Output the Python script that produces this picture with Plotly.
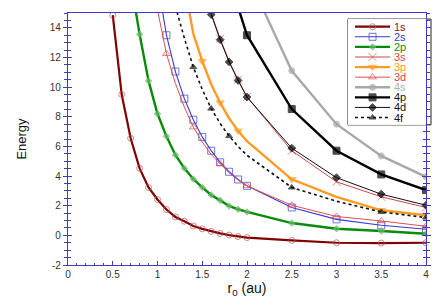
import plotly.graph_objects as go

# ---------------- data ----------------
NAMES = ["1s", "2s", "2p", "3s", "3p", "3d", "4s", "4p", "4d", "4f"]

R_1S = [0.5, 0.6, 0.7, 0.8, 0.9, 1.0, 1.1, 1.2, 1.3, 1.4, 1.5, 1.6, 1.7, 1.8, 1.9, 2.0, 2.5, 3.0, 3.5, 4.0]
E_1S = [14.85, 9.5, 6.55, 4.52, 3.23, 2.42, 1.74, 1.24, 0.95, 0.63, 0.44, 0.27, 0.13, 0.02, -0.08, -0.15, -0.34, -0.5, -0.52, -0.5]

R_2S = [1.0, 1.1, 1.2, 1.3, 1.4, 1.5, 1.6, 1.7, 1.8, 1.9, 2.0, 2.5, 3.0, 3.5, 4.0]
E_2S = [17.2, 13.5, 11.05, 9.22, 7.8, 6.64, 5.71, 4.93, 4.29, 3.77, 3.34, 1.88, 1.08, 0.68, 0.41]

R_2P = [0.7, 0.8, 0.9, 1.0, 1.1, 1.2, 1.3, 1.4, 1.5, 1.6, 1.7, 1.8, 1.9, 2.0, 2.5, 3.0, 3.5, 4.0]
E_2P = [17.2, 13.56, 10.42, 8.2, 6.68, 5.42, 4.52, 3.8, 3.23, 2.72, 2.36, 1.98, 1.76, 1.58, 0.83, 0.45, 0.29, 0.11]

R_3S = [1.5, 1.6, 1.7, 1.8, 1.9, 2.0, 2.5, 3.0, 3.5, 4.0]
E_3S = [17.2, 15.0, 13.27, 11.75, 10.5, 9.33, 5.71, 3.61, 2.6, 1.88]

R_3P = [1.3, 1.4, 1.5, 1.6, 1.7, 1.8, 1.9, 2.0, 2.5, 3.0, 3.5, 4.0]
E_3P = [16.9, 13.6, 11.75, 10.2, 8.95, 7.9, 7.05, 6.35, 3.78, 2.6, 1.69, 1.36]

R_3D = [1.0, 1.1, 1.2, 1.3, 1.4, 1.5, 1.6, 1.7, 1.8, 1.9, 2.0, 2.5, 3.0, 3.5, 4.0]
E_3D = [15.2, 12.25, 10.25, 8.65, 7.3, 6.3, 5.45, 4.82, 4.22, 3.74, 3.34, 2.03, 1.27, 0.97, 0.61]

R_4S = [2.0, 2.5, 3.0, 3.5, 4.0]
E_4S = [17.6, 11.1, 7.5, 5.36, 3.95]

R_4P = [1.9, 2.0, 2.5, 3.0, 3.5, 4.0]
E_4P = [15.4, 13.5, 8.52, 5.71, 4.11, 3.05]

R_4D = [1.6, 1.7, 1.8, 1.9, 2.0, 2.5, 3.0, 3.5, 4.0]
E_4D = [14.9, 13.2, 11.7, 10.45, 9.33, 5.88, 3.89, 2.78, 2.03]

R_4F = [1.2, 1.3, 1.4, 1.5, 1.6, 1.7, 1.8, 1.9, 2.0, 2.5, 3.0, 3.5, 4.0]
E_4F = [15.45, 13.3, 11.35, 9.85, 8.55, 7.55, 6.7, 6.0, 5.4, 3.23, 2.3, 1.58, 1.2]

X_TICKS = [0, 0.5, 1, 1.5, 2, 2.5, 3, 3.5, 4]
Y_TICKS = [-2, 0, 2, 4, 6, 8, 10, 12, 14]

SERIES = {
    "1s": (R_1S, E_1S), "2s": (R_2S, E_2S), "2p": (R_2P, E_2P),
    "3s": (R_3S, E_3S), "3p": (R_3P, E_3P), "3d": (R_3D, E_3D),
    "4s": (R_4S, E_4S), "4p": (R_4P, E_4P), "4d": (R_4D, E_4D),
    "4f": (R_4F, E_4F),
}

# ---------------- styles ----------------
AXIS_BLUE = "#3b3bc4"
FONT = "Liberation Sans, Arial, sans-serif"
STYLE = {
    "1s": dict(color="#800000", width=2.2, dash="solid", sym="circle-open", msz=6, mcol="#b85a5a", text="#8b2020", marks=None),
    "2s": dict(color="#3a3ad0", width=1.1, dash="solid", sym="square-open", msz=7, mcol="#3a3ad0", text="#3a3ad0", marks=None),
    "2p": dict(color="#0a8a0a", width=2.4, dash="solid", sym="diamond", msz=5, mcol="#66bb66", text="#0a8a0a", marks=None),
    "3s": dict(color="#c84848", width=1.0, dash="solid", sym="x-thin-open", msz=8, mcol="#d05a5a", text="#d04848", marks=[1.7, 1.9, 2.0, 2.5, 3.0, 3.5, 4.0]),
    "3p": dict(color="#ff9a22", width=2.4, dash="solid", sym="triangle-down", msz=7, mcol="#ff9a22", text="#ff9a22", marks=[1.5, 1.7, 1.9, 2.5, 3.5, 4.0]),
    "3d": dict(color="#e05050", width=1.0, dash="solid", sym="triangle-up-open", msz=7, mcol="#e05050", text="#e04848", marks=[1.1, 1.4, 1.7, 2.0, 2.5, 3.0, 3.5, 4.0]),
    "4s": dict(color="#a8a8a8", width=2.4, dash="solid", sym="circle", msz=6, mcol="#a8a8a8", text="#b0b0b0", marks=None),
    "4p": dict(color="#000000", width=2.4, dash="solid", sym="square", msz=7, mcol="#000000", text="#111111", marks=None),
    "4d": dict(color="#111111", width=1.0, dash="solid", sym="diamond", msz=6, mcol="#000000", text="#111111", marks=None),
    "4f": dict(color="#111111", width=1.6, dash="dot", sym="triangle-up", msz=6, mcol="#111111", text="#111111", marks=[1.4, 1.6, 1.8, 2.5, 3.5, 4.0]),
}


def marker_sizes(xs, st):
    if st["marks"] is None:
        return [st["msz"]] * len(xs)
    return [st["msz"] if any(abs(x - m) < 1e-9 for m in st["marks"]) else 0 for x in xs]


fig = go.Figure()

for name in NAMES:
    xs, ys = SERIES[name]
    st = STYLE[name]
    fig.add_trace(go.Scatter(
        x=xs, y=ys, mode="lines+markers", showlegend=False, name=name,
        line=dict(color=st["color"], width=st["width"], dash=st["dash"]),
        marker=dict(symbol=st["sym"], size=marker_sizes(xs, st), color=st["mcol"],
                    line=dict(color=st["mcol"], width=1)),
    ))

# crossing ticks helper axis (inside ticks)
fig.add_trace(go.Scatter(x=[None], y=[None], xaxis="x", yaxis="y3", showlegend=False, hoverinfo="skip"))

# ---------------- custom compact legend ----------------
for i, name in enumerate(NAMES):
    st = STYLE[name]
    fig.add_trace(go.Scatter(
        x=[0.09, 0.315, 0.54], y=[i, i, i], xaxis="x2", yaxis="y2", mode="lines+markers",
        showlegend=False, hoverinfo="skip",
        line=dict(color=st["color"], width=st["width"], dash=st["dash"]),
        marker=dict(symbol=st["sym"], size=[0, st["msz"], 0], color=st["mcol"],
                    line=dict(color=st["mcol"], width=1)),
        cliponaxis=False,
    ))
    fig.add_annotation(x=0.565, y=i, xref="x2", yref="y2", text=name, showarrow=False,
                       xanchor="left", yanchor="middle",
                       font=dict(family=FONT, size=11, color=st["text"]))

fig.add_shape(type="rect", xref="paper", yref="paper", x0=0.782, x1=1.014, y0=0.556, y1=0.976,
              line=dict(color="#222222", width=1), fillcolor="white", layer="below")

fig.update_layout(
    width=442, height=305,
    margin=dict(l=68, r=16, t=13, b=40, autoexpand=False),
    paper_bgcolor="white", plot_bgcolor="white",
    font=dict(family=FONT, size=10, color="#333333"),
    xaxis=dict(
        range=[0, 4], tickvals=X_TICKS, ticktext=[f"{v:g}" for v in X_TICKS],
        showgrid=False, zeroline=False, showline=True, linecolor=AXIS_BLUE, linewidth=1.2,
        mirror=True, ticks="inside", ticklen=4, tickcolor=AXIS_BLUE, tickwidth=1,
        minor=dict(dtick=0.1, ticks="inside", ticklen=2, tickcolor=AXIS_BLUE),
        tickfont=dict(size=10, color="#333333"),
        title=dict(text="r<sub>0</sub> (au)", font=dict(size=14, color="#111111"), standoff=2),
        automargin=False,
    ),
    yaxis=dict(
        range=[-2, 15], tickvals=Y_TICKS, ticktext=[f"{v:g}" for v in Y_TICKS],
        showgrid=False, zeroline=False, showline=True, linecolor=AXIS_BLUE, linewidth=1.2,
        mirror="ticks", ticks="outside", ticklen=4, tickcolor=AXIS_BLUE, tickwidth=1,
        minor=dict(dtick=0.5, ticks="outside", ticklen=3, tickcolor=AXIS_BLUE),
        tickfont=dict(size=10, color="#333333"),
        title=dict(text="Energy", font=dict(size=13, color="#111111"), standoff=20),
        automargin=False,
    ),
    yaxis3=dict(
        range=[-2, 15], overlaying="y", side="left", showgrid=False, zeroline=False,
        showline=False, mirror="ticks", ticks="inside", ticklen=4, tickcolor=AXIS_BLUE,
        tickvals=Y_TICKS, showticklabels=False,
        minor=dict(dtick=0.5, ticks="inside", ticklen=3, tickcolor=AXIS_BLUE),
    ),
    xaxis2=dict(domain=[0.782, 1.0], range=[0, 1], anchor="y2", visible=False, fixedrange=True),
    yaxis2=dict(domain=[0.556, 0.976], range=[9.73, -0.76], anchor="x2", visible=False, fixedrange=True),
    showlegend=False,
)

fig.write_html("out.html", config={"displayModeBar": False},
               post_script="document.body.style.margin='0';document.body.style.overflow='hidden';")
